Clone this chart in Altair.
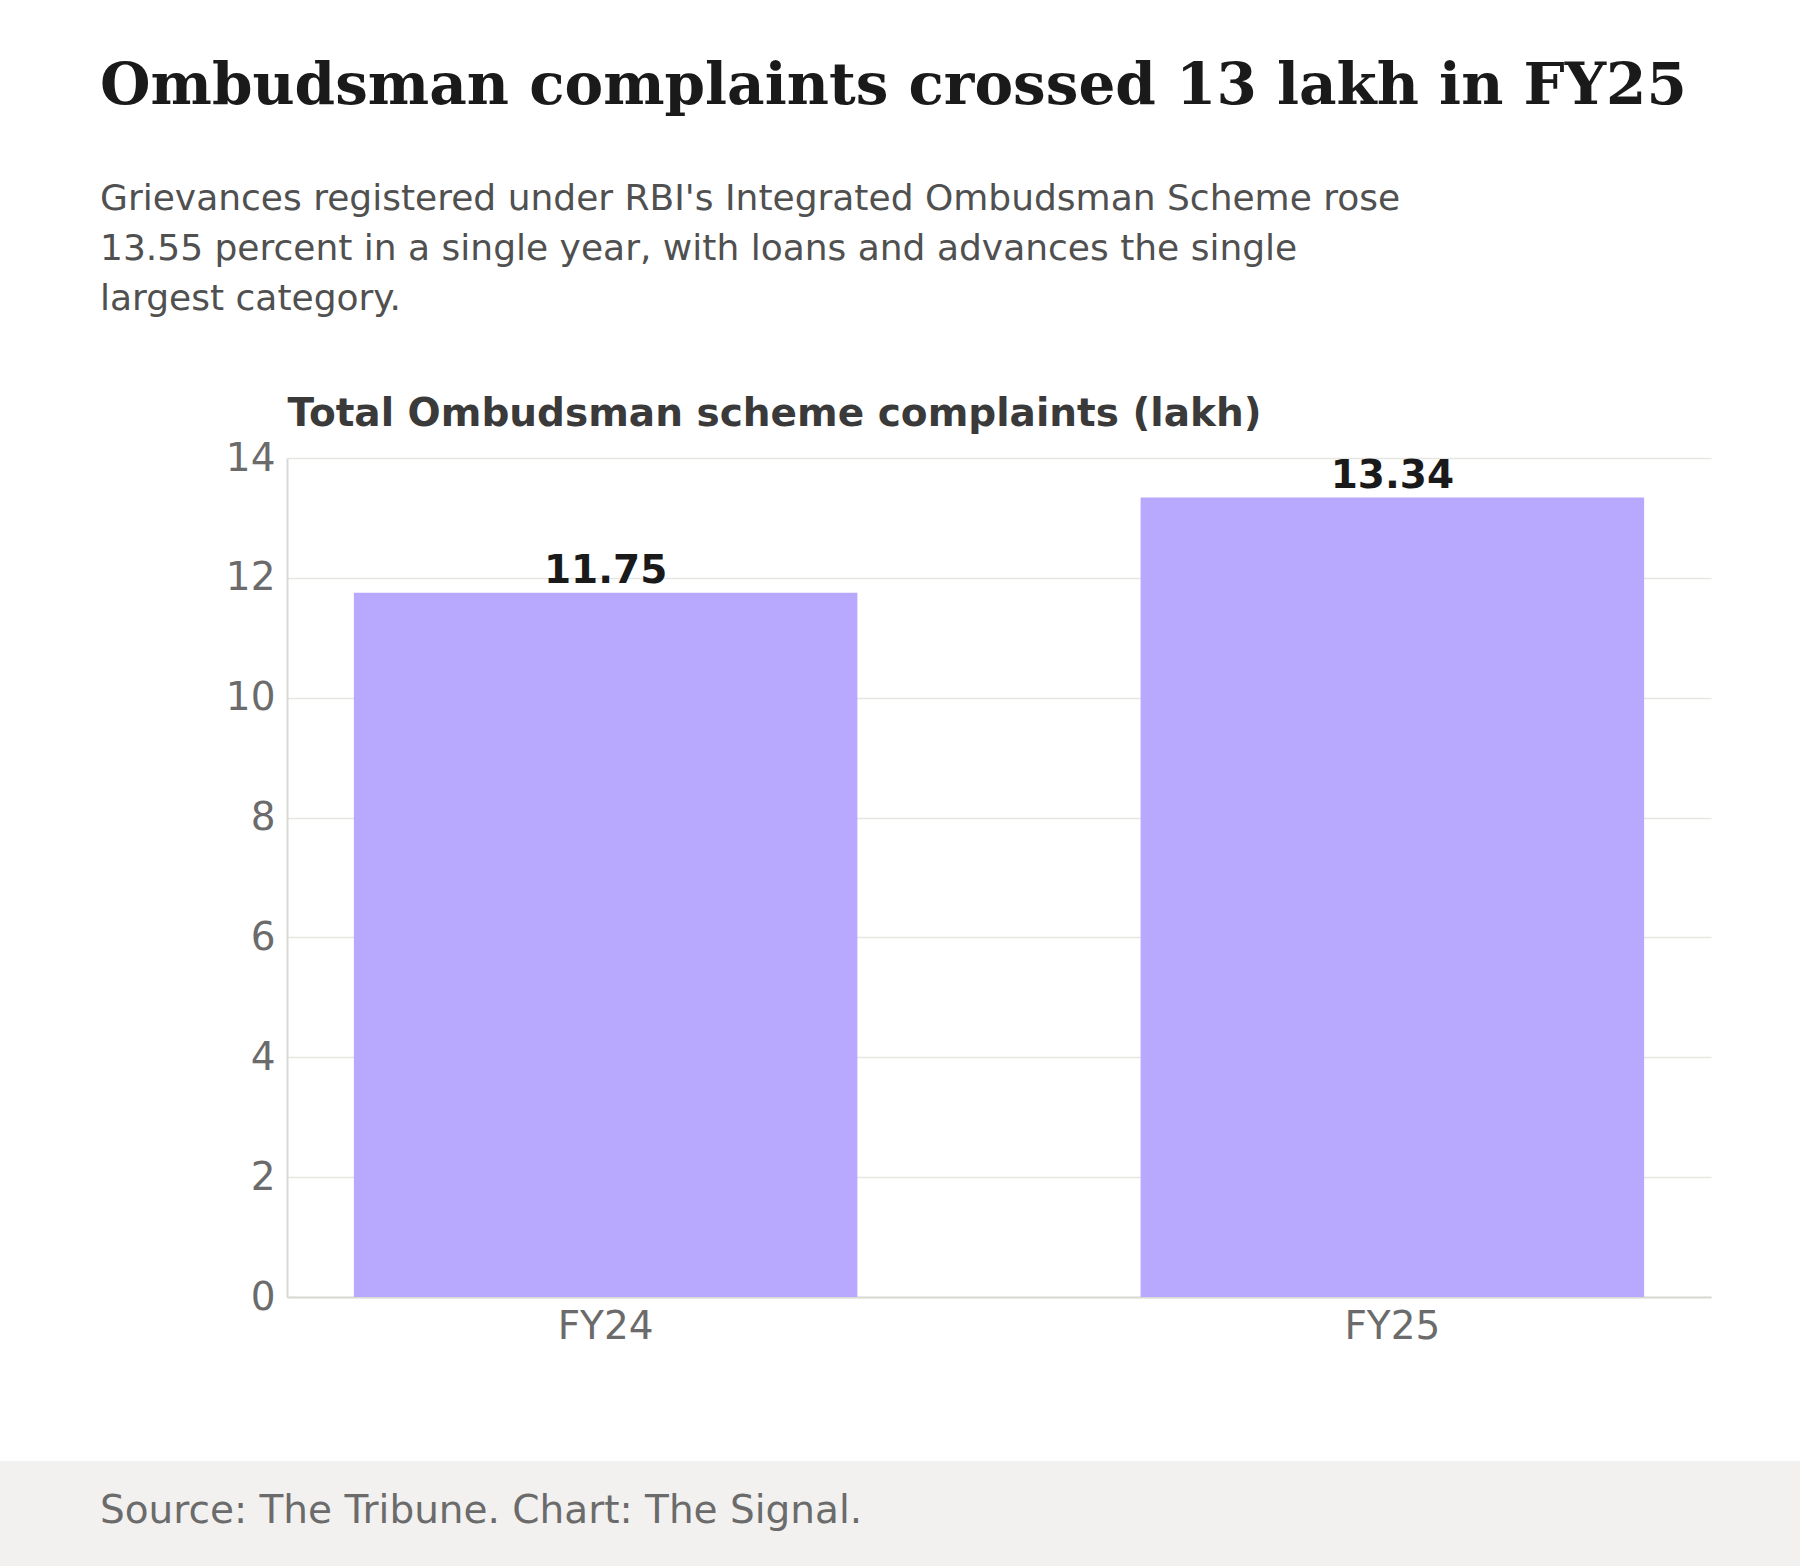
import altair as alt
import pandas as pd

years = ["FY24", "FY25"]
complaints = [11.75, 13.34]
value_labels = ["11.75", "13.34"]
y_ticks = [0, 2, 4, 6, 8, 10, 12, 14]

title_text = "Ombudsman complaints crossed 13 lakh in FY25"
subtitle_lines = [
    "Grievances registered under RBI's Integrated Ombudsman Scheme rose",
    "13.55 percent in a single year, with loans and advances the single",
    "largest category.",
]
axis_title = "Total Ombudsman scheme complaints (lakh)"
footer_text = "Source: The Tribune. Chart: The Signal."

df = pd.DataFrame({"year": years, "value": complaints, "label": value_labels})

PL, PT, PR, PB = 287, 458, 89, 269
W = 1800 - PL - PR
H = 1566 - PT - PB

x_enc = alt.X(
    "year:N",
    sort=years,
    scale=alt.Scale(paddingInner=0.36, paddingOuter=0.085),
    axis=alt.Axis(
        title=None, labelAngle=0, labelFontSize=39, labelColor="#6b6b6b",
        labelPadding=10, ticks=False, domainColor="#d9d9d4", domainWidth=2,
        labelFont="DejaVu Sans",
    ),
)
y_enc = alt.Y(
    "value:Q",
    scale=alt.Scale(domain=[0, 14]),
    axis=alt.Axis(
        values=y_ticks, format="d", title=axis_title, titleAngle=0, titleAlign="left",
        titleBaseline="alphabetic", titleX=0, titleY=-33, titleFontSize=39,
        titleFontWeight="bold", titleColor="#3a3a3a", titleFont="DejaVu Sans",
        labelFontSize=39, labelColor="#6b6b6b", labelPadding=12, ticks=False,
        domainColor="#d9d9d4", domainWidth=2, gridColor="#e6e6e3", gridWidth=1.5,
        labelFont="DejaVu Sans",
    ),
)

bars = alt.Chart(df).mark_bar(color="#b8a8fe").encode(x=x_enc, y=y_enc)
labels = alt.Chart(df).mark_text(
    baseline="bottom", dy=-2, fontSize=39, fontWeight="bold", color="#1a1a1a",
    font="DejaVu Sans",
).encode(x=alt.X("year:N", sort=years), y="value:Q", text="label:N")

fdf = pd.DataFrame({"t": [footer_text]})
footer_bg = alt.Chart(fdf).mark_rect(color="#f2f1f0", clip=False).encode(
    x=alt.value(-PL), x2=alt.value(1800 - PL),
    y=alt.value(1461 - PT), y2=alt.value(1566 - PT),
)
footer = alt.Chart(fdf).mark_text(
    align="left", baseline="alphabetic", fontSize=39, color="#6b6b6b",
    font="DejaVu Sans",
).encode(x=alt.value(100 - PL), y=alt.value(1523 - PT), text="t:N")

chart = alt.layer(footer_bg, footer, bars, labels).properties(
    width=W, height=H,
    autosize=alt.AutoSizeParams(type="none"),
    padding={"left": PL, "top": PT, "right": PR, "bottom": PB},
    background="white",
    title=alt.TitleParams(
        text=title_text, subtitle=subtitle_lines, anchor="start", frame="group",
        dx=100 - PL, font="DejaVu Serif", fontSize=58, fontWeight="bold",
        color="#1a1a1a", subtitleFont="DejaVu Sans", subtitleFontSize=36,
        subtitleColor="#505050", subtitleLineHeight=50, subtitlePadding=66,
        offset=77,
    ),
).configure_view(stroke=None)

chart.save("out.html", embed_options={"renderer": "svg", "actions": False})
